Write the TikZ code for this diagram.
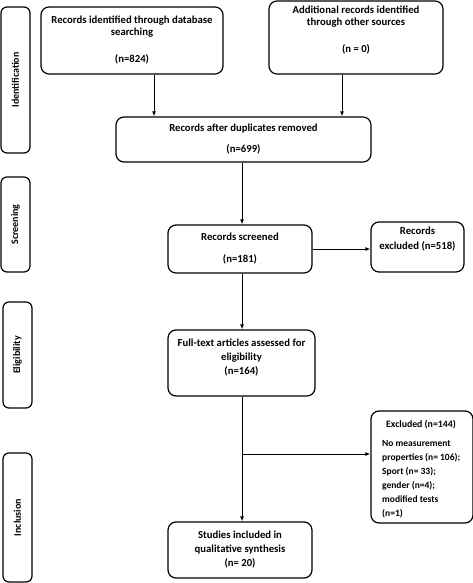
\documentclass[tikz,border=0pt]{standalone}
\usepackage{fontspec}
\setmainfont{Carlito}
\usetikzlibrary{arrows.meta,calc}
\begin{document}
\begin{tikzpicture}[x=1pt,y=1pt,
  box/.style={draw=black,line width=1.2pt,rounded corners=8pt,align=center,inner sep=0pt,font=\fontsize{10.7}{12}\selectfont\bfseries},
  side/.style={draw=black,line width=1.2pt,rounded corners=6pt,inner sep=0pt},
  sidetxt/.style={rotate=90,font=\fontsize{10}{11}\selectfont\bfseries},
  arr/.style={line width=1pt,-{Latex[length=5pt,width=4pt]}}]
\useasboundingbox (0,0) rectangle (473,-583);
% side labels
\node[side,minimum width=29pt,minimum height=146pt] (sid) at (15.5,-80) {};
\node[sidetxt] (sidt) at (sid.center) {Identification};
\node[side,minimum width=29pt,minimum height=95pt] (ssc) at (15.5,-224.5) {};
\node[sidetxt] (ssct) at (ssc.center) {Screening};
\node[side,minimum width=29pt,minimum height=106pt] (sel) at (17.5,-355) {};
\node[sidetxt] (selt) at (sel.center) {Eligibility};
\node[side,minimum width=29pt,minimum height=129pt] (sin) at (17.5,-517.5) {};
\node[sidetxt] (sint) at (sin.center) {Inclusion};
% boxes
\node[box,minimum width=182pt,minimum height=67pt] (b1) at (132,-40.5)
  {Records identified through database\\searching\\[15pt](n=824)};
\node[box,minimum width=174pt,minimum height=73pt] (b2) at (356,-37.5)
  {Additional records identified\\through other sources\\[15pt](n = 0)\\[4pt]};
\node[box,minimum width=255pt,minimum height=45pt] (b3) at (243.5,-139.5)
  {Records after duplicates removed\\[9pt](n=699)};
\node[box,minimum width=144pt,minimum height=48pt] (scr) at (240,-249)
  {Records screened\\[10pt](n=181)};
\node[box,minimum width=93pt,minimum height=50pt,font=\fontsize{10.7}{15}\selectfont\bfseries] (rex) at (417.5,-247)
  {Records\\excluded (n=518)\\[2pt]};
\node[box,minimum width=147pt,minimum height=66pt,font=\fontsize{10.7}{14}\selectfont\bfseries] (ft) at (241.5,-363)
  {Full-text articles assessed for\\eligibility\\(n=164)\\[-2pt]};
\node[box,minimum width=102pt,minimum height=112pt] (ex) at (422,-467) {};
\node[font=\fontsize{9.8}{14}\selectfont\bfseries,align=center,inner sep=0pt] (ext) at (421,-425) {Excluded (n=144)};
\node[font=\fontsize{9.5}{14}\selectfont\bfseries,align=left,anchor=north west,inner sep=0pt] (exl) at (382,-440)
  {No measurement\\properties (n= 106);\\Sport (n= 33);\\gender (n=4);\\modified tests\\(n=1)};
\node[box,minimum width=144pt,minimum height=56pt,font=\fontsize{10.7}{14}\selectfont\bfseries] (st) at (240,-550)
  {Studies included in\\qualitative synthesis\\(n= 20)};
% connectors
\coordinate (c1) at (154,0);
\coordinate (c2) at (342,0);
\coordinate (c3) at (242,0);
\coordinate (br) at (242,-454);
\draw[arr] (b1.south -| c1) -- (b3.north -| c1);
\draw[arr] (b2.south -| c2) -- (b3.north -| c2);
\draw[arr] (b3.south -| c3) -- (scr.north -| c3);
\draw[arr] (scr.east |- 0,-249) -- (rex.west |- 0,-249);
\draw[arr] (scr.south -| c3) -- (ft.north -| c3);
\draw[arr] (ft.south -| c3) -- (st.north -| c3);
\draw[arr] (br) -- (ex.west |- br);
\end{tikzpicture}
\end{document}
